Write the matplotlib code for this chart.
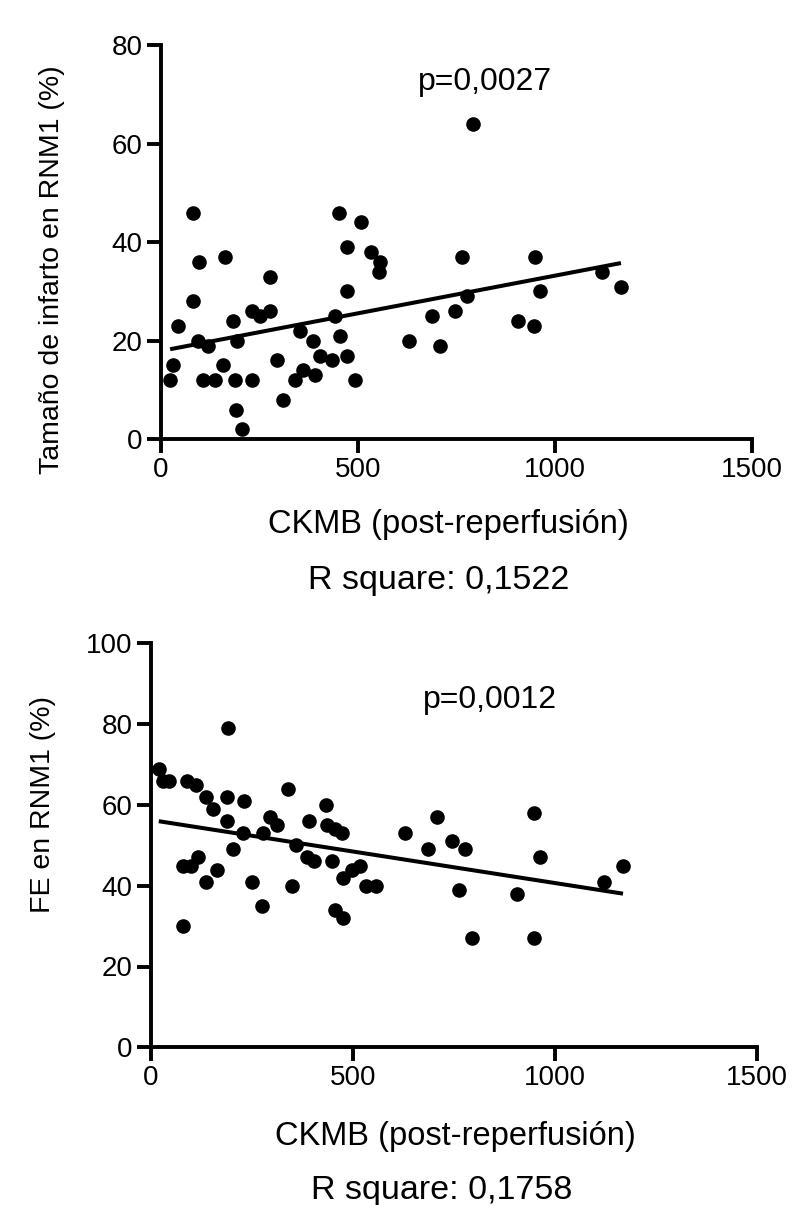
import numpy as np
import matplotlib
matplotlib.use("Agg")
import matplotlib.pyplot as plt

plt.rcParams['font.family'] = ['Liberation Sans', 'DejaVu Sans']

# Top panel: CKMB vs infarct size
ckmb_top = [24, 31, 44, 82, 82, 97, 95, 107, 120, 138, 158, 163, 183, 188, 191, 206, 193,
            231, 231, 252, 277, 277, 295, 310, 340, 361, 391, 353, 386, 404, 434, 454, 472,
            472, 472, 452, 442, 493, 508, 533, 556, 553, 630, 688, 708, 746, 764, 776, 792,
            906, 947, 949, 962, 1119, 1167]
infarct = [12, 15, 23, 46, 28, 36, 20, 12, 19, 12, 15, 37, 24, 12, 6, 2, 20,
           12, 26, 25, 26, 33, 16, 8, 12, 14, 13, 22, 20, 17, 16, 21, 17,
           30, 39, 46, 25, 12, 44, 38, 36, 34, 20, 25, 19, 26, 37, 29, 64,
           24, 23, 37, 30, 34, 31]

# Bottom panel: CKMB vs ejection fraction
ckmb_bot = [20, 30, 45, 90, 112, 137, 154, 189, 231, 340, 191, 189, 228, 278, 295, 312,
            359, 391, 433, 436, 456, 473, 387, 404, 448, 476, 498, 518, 532, 557, 456, 476,
            204, 80, 100, 117, 164, 137, 250, 349, 275, 80, 629, 708, 686, 745, 777, 762,
            794, 948, 963, 906, 948, 1121, 1168]
fe = [69, 66, 66, 66, 65, 62, 59, 62, 61, 64, 79, 56, 53, 53, 57, 55,
      50, 56, 60, 55, 54, 53, 47, 46, 46, 42, 44, 45, 40, 40, 34, 32,
      49, 45, 45, 47, 44, 41, 41, 40, 35, 30, 53, 57, 49, 51, 49, 39,
      27, 58, 47, 38, 27, 41, 45]

x_ticks = [0, 500, 1000, 1500]
top_yticks = [0, 20, 40, 60, 80]
bot_yticks = [0, 20, 40, 60, 80, 100]

W, H = 793, 1205
fig = plt.figure(figsize=(W / 100, H / 100), dpi=100)

ax1 = fig.add_axes([160.7 / W, (H - 439.3) / H, 591.6 / W, 394.3 / H])
ax2 = fig.add_axes([150.7 / W, (H - 1047.3) / H, 606.6 / W, 404.0 / H])

FS_TICK = 20
FS_XLAB = 23.5
FS_YLAB = 20.5
FS_R = 24.5
FS_P = 23
LW = 2.8


def style(ax, yticks, ymax):
    ax.set_xlim(0, 1500)
    ax.set_ylim(0, ymax)
    ax.set_xticks(x_ticks)
    ax.set_yticks(yticks)
    for s in ['top', 'right']:
        ax.spines[s].set_visible(False)
    for s in ['left', 'bottom']:
        ax.spines[s].set_linewidth(LW)
        ax.spines[s].set_capstyle('projecting')
    ax.tick_params(axis='both', direction='out', length=10, width=LW,
                   labelsize=FS_TICK, pad=3)


def draw(ax, x, y):
    x = np.asarray(x, float)
    y = np.asarray(y, float)
    ax.plot(x, y, 'o', color='black', markersize=10.5, markeredgewidth=0,
            clip_on=False, zorder=3)
    m, b = np.polyfit(x, y, 1)
    xs = np.array([x.min(), x.max()])
    ax.plot(xs, m * xs + b, color='black', lw=2.9, solid_capstyle='butt', zorder=2)


def labels(ax, xlab, ylab, xl_pos, yl_pos):
    ax.set_xlabel(xlab, fontsize=FS_XLAB)
    ax.xaxis.set_label_coords(*xl_pos)
    ax.xaxis.label.set_va('center')
    ax.set_ylabel(ylab, fontsize=FS_YLAB)
    ax.yaxis.set_label_coords(*yl_pos)
    ax.yaxis.label.set_va('center')


draw(ax1, ckmb_top, infarct)
style(ax1, top_yticks, 80)
labels(ax1, 'CKMB (post-reperfusión)', 'Tamaño de infarto en RNM1 (%)',
       (0.486, -0.217), (-0.183, 0.43))
ax1.text(0.47, -0.358, 'R square: 0,1522', transform=ax1.transAxes,
         ha='center', va='center', fontsize=FS_R)
ax1.text(822, 72.5, 'p=0,0027', ha='center', va='center', fontsize=FS_P)

draw(ax2, ckmb_bot, fe)
style(ax2, bot_yticks, 100)
labels(ax2, 'CKMB (post-reperfusión)', 'FE en RNM1 (%)',
       (0.502, -0.222), (-0.177, 0.60))
ax2.text(0.48, -0.354, 'R square: 0,1758', transform=ax2.transAxes,
         ha='center', va='center', fontsize=FS_R)
ax2.text(839, 86, 'p=0,0012', ha='center', va='center', fontsize=FS_P)

fig.savefig('out.png', dpi=100)
